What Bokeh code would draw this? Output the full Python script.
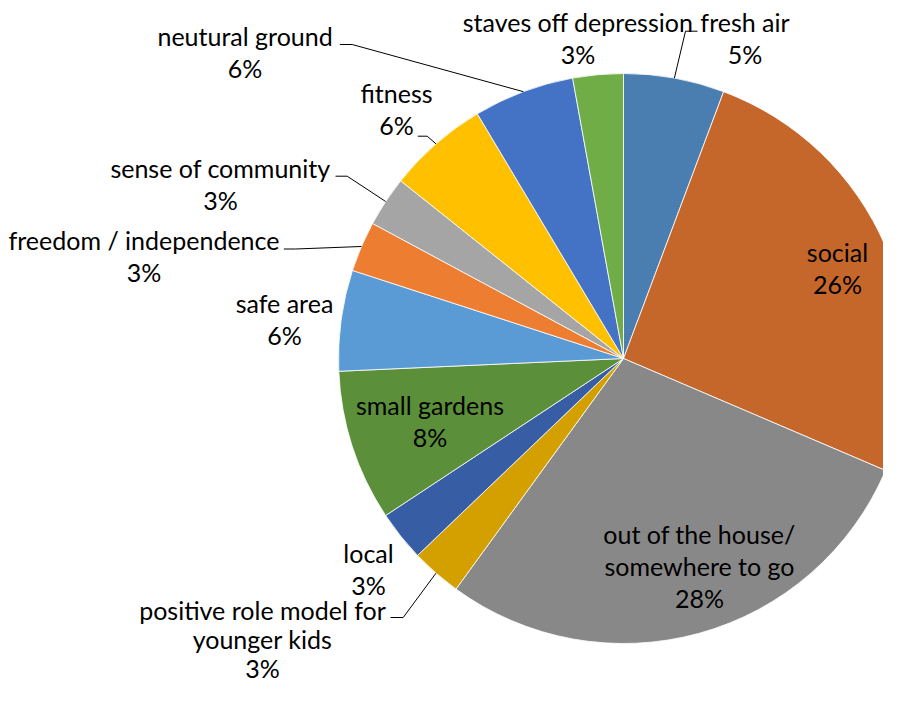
import math
from bokeh.plotting import figure
from bokeh.models import Range1d, ColumnDataSource
from bokeh.core.properties import value
from bokeh.embed import file_html
from bokeh.resources import INLINE

# ---- data (clockwise from 12 o'clock) ----
categories = ["fresh air", "social", "out of the house/\nsomewhere to go",
              "positive role model for\nyounger kids", "local", "small gardens",
              "safe area", "freedom / independence", "sense of community",
              "fitness", "neutural ground", "staves off depression"]
counts = [2, 9, 10, 1, 1, 3, 2, 1, 1, 2, 2, 1]
pct_labels = ["5%", "26%", "28%", "3%", "3%", "8%", "6%", "3%", "3%", "6%", "6%", "3%"]
colors = ["#4A7EB0", "#C5672B", "#888888", "#D4A000", "#375EA5", "#5B8F3A",
          "#5B9BD5", "#ED7D31", "#A5A5A5", "#FFC000", "#4472C4", "#70AD47"]

# ---- layout (screen pixels of the picture) ----
CX, CY, R = 623.0, 358.0, 285.0
FONT = "Lato"
FSIZE = "25px"
LINE = 32
TEXT_DY = -9  # correction: rendered baseline sits lower than anchor
# label anchor: centre x, first baseline y, line spacing
label_pos = [(744.5, 30.5, LINE), (837, 260, LINE), (699, 542.5, LINE),
             (262, 618, 29), (368, 561.5, LINE), (429.5, 413, LINE),
             (284, 311.5, LINE), (143.5, 248.5, LINE), (220, 176.5, LINE),
             (396, 101.5, LINE), (244.6, 44, LINE), (577.5, 30.5, LINE)]
# leader: (outer x end, elbow x, y) or None
leaders = [(697, 685, 30.7), None, None, (390, 402.7, 617), None, None,
           None, (283.3, 295, 248.5), (335, 346.7, 175.7), (417.3, 426.7, 135.7),
           (339.3, 351.7, 44), None]

W, H = 883, 686
p = figure(width=W, height=H, x_range=Range1d(0, W), y_range=Range1d(-H, 0),
           output_backend="svg", toolbar_location=None, min_border=0)
p.axis.visible = False
p.grid.visible = False
p.outline_line_color = None
p.background_fill_color = "white"
p.border_fill_color = "white"

total = sum(counts)
starts, ends, mids = [], [], []
cum = 0
for c in counts:
    a0 = math.pi / 2 - 2 * math.pi * cum / total
    cum += c
    a1 = math.pi / 2 - 2 * math.pi * cum / total
    starts.append(a1)
    ends.append(a0)
    mids.append((a0 + a1) / 2)

src = ColumnDataSource(dict(start=starts, end=ends, color=colors, cat=categories))
p.wedge(x=CX, y=-CY, radius=R, start_angle="start", end_angle="end",
        direction="anticlock", fill_color="color", line_color="white",
        line_width=0.8, source=src)

# leader lines
xs, ys = [], []
for i, ld in enumerate(leaders):
    if ld is None:
        continue
    x_out, x_elb, y_l = ld
    ex = CX + R * math.cos(mids[i])
    ey = CY - R * math.sin(mids[i])
    xs.append([x_out, x_elb, ex])
    ys.append([-y_l, -y_l, -ey])
p.multi_line(xs=xs, ys=ys, line_color="black", line_width=1)

# labels
tx, ty, tt = [], [], []
for i, cat in enumerate(categories):
    lines = cat.split("\n") + [pct_labels[i]]
    x0, y0, sp = label_pos[i]
    for k, ln in enumerate(lines):
        tx.append(x0)
        ty.append(-(y0 + k * sp + TEXT_DY))
        tt.append(ln)
p.text(x=tx, y=ty, text=tt, text_align="center", text_baseline="alphabetic",
       text_font=value(FONT), text_font_size=FSIZE, text_color="black")

open("out.html", "w").write(file_html(p, INLINE))
